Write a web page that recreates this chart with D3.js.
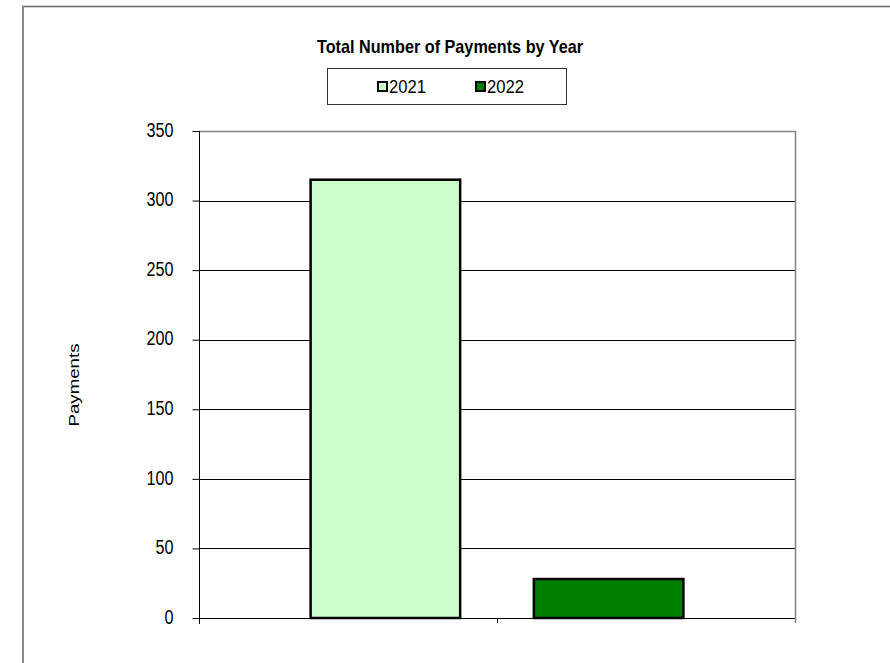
<!DOCTYPE html>
<html>
<head>
<meta charset="utf-8">
<script src="https://cdn.jsdelivr.net/npm/d3@7"></script>
<style>
  html, body { margin: 0; padding: 0; background: #fff; }
  svg { display: block; font-family: "Liberation Sans", Arial, sans-serif; }
</style>
</head>
<body>
<svg id="chart" width="890" height="663"></svg>
<script>
const categories = [""];
const seriesNames = ["2021", "2022"];
const seriesValues = [315, 28];
const seriesColors = ["#CCFFCC", "#008000"];
const yTicks = [0, 50, 100, 150, 200, 250, 300, 350];
const titleText = "Total Number of Payments by Year";
const yAxisTitle = "Payments";

const svg = d3.select("#chart");
const W = 890, H = 663;
const plot = { left: 199, right: 795, top: 131, bottom: 618 };
const SX = 0.83; // horizontal squeeze of the original rendering

svg.append("rect").attr("x", 0).attr("y", 0).attr("width", W).attr("height", H).attr("fill", "#fff");

// outer chart border
svg.append("rect")
  .attr("x", 23).attr("y", 6.5).attr("width", 900).attr("height", 700)
  .attr("fill", "none").attr("stroke", "#6e6e6e").attr("stroke-width", 1.6);

const y = d3.scaleLinear().domain([0, 350]).range([plot.bottom, plot.top]);
const x0 = d3.scaleBand().domain(categories).range([plot.left, plot.right]).padding(0);
const x1 = d3.scaleBand().domain(seriesNames).range([0, x0.bandwidth()]).paddingInner(0.33).paddingOuter(0.5);

// gridlines
svg.append("g").selectAll("line")
  .data(yTicks.filter(t => t > 0 && t < 350))
  .join("line")
  .attr("x1", plot.left).attr("x2", plot.right)
  .attr("y1", d => Math.round(y(d)) + 0.5).attr("y2", d => Math.round(y(d)) + 0.5)
  .attr("stroke", "#000").attr("stroke-width", 1);

// plot area border top & right (gray)
svg.append("line")
  .attr("x1", plot.left).attr("x2", plot.right + 0.5)
  .attr("y1", Math.round(y(350)) + 0.5).attr("y2", Math.round(y(350)) + 0.5)
  .attr("stroke", "#808080").attr("stroke-width", 1.5);
svg.append("line")
  .attr("x1", plot.right + 0.5).attr("x2", plot.right + 0.5)
  .attr("y1", y(350)).attr("y2", y(0))
  .attr("stroke", "#808080").attr("stroke-width", 1.5);

// bars
const data = seriesNames.map((s, i) => ({ series: s, value: seriesValues[i], color: seriesColors[i] }));
svg.append("g").selectAll("rect")
  .data(data)
  .join("rect")
  .attr("x", d => x0(categories[0]) + x1(d.series))
  .attr("width", x1.bandwidth())
  .attr("y", d => y(d.value))
  .attr("height", d => y(0) - y(d.value))
  .attr("fill", d => d.color)
  .attr("stroke", "#000").attr("stroke-width", 2.5);

// y axis
const yAxis = d3.axisLeft(y).tickValues(yTicks).tickSize(7).tickFormat(d3.format("d"));
const gy = svg.append("g").attr("transform", `translate(${plot.left + 0.5},0)`).call(yAxis);
gy.select(".domain").attr("stroke", "#000").attr("d", `M0,${y(350)}V${y(0) + 6}`);
gy.selectAll(".tick line").attr("stroke", "#000");
gy.selectAll(".tick text")
  .attr("x", 0).attr("dy", "0.27em")
  .attr("transform", `translate(-26,0) scale(${SX},1)`)
  .attr("font-size", 19.5).attr("fill", "#000")
  .attr("font-family", "Liberation Sans, Arial, sans-serif");

// x axis (baseline plus category boundary ticks)
const xb = d3.scaleLinear().domain([0, 2]).range([plot.left, plot.right]);
const gx = svg.append("g");
gx.append("line")
  .attr("x1", plot.left).attr("x2", plot.right + 1)
  .attr("y1", Math.round(y(0)) + 0.5).attr("y2", Math.round(y(0)) + 0.5)
  .attr("stroke", "#000").attr("stroke-width", 1);
gx.selectAll("line.tk")
  .data(d3.range(0, 3))
  .join("line").attr("class", "tk")
  .attr("x1", d => Math.round(xb(d)) + 0.5).attr("x2", d => Math.round(xb(d)) + 0.5)
  .attr("y1", y(0)).attr("y2", y(0) + 5)
  .attr("stroke", d => d === 2 ? "#808080" : "#000").attr("stroke-width", d => d === 2 ? 1.5 : 1);

// title
svg.append("text")
  .attr("x", 450).attr("y", 53)
  .attr("text-anchor", "middle")
  .attr("font-size", 17.7).attr("font-weight", "bold")
  .attr("textLength", 266).attr("lengthAdjust", "spacingAndGlyphs")
  .text(titleText);

// legend
const lg = svg.append("g");
lg.append("rect").attr("x", 327.5).attr("y", 68.5).attr("width", 239).attr("height", 36)
  .attr("fill", "#fff").attr("stroke", "#333").attr("stroke-width", 1);
const legendX = [378, 476];
const items = lg.selectAll("g.item").data(data).join("g").attr("class", "item")
  .attr("transform", (d, i) => `translate(${legendX[i]},82)`);
items.append("rect").attr("x", 0).attr("y", 0).attr("width", 9).attr("height", 9)
  .attr("fill", d => d.color).attr("stroke", "#000").attr("stroke-width", 2);
items.append("text").attr("x", 11).attr("y", 11.3).attr("font-size", 18.6)
  .attr("textLength", 37).attr("lengthAdjust", "spacingAndGlyphs")
  .text(d => d.series);

// y axis title
svg.append("text")
  .attr("transform", `translate(79,385) scale(${SX},1) rotate(-90)`)
  .attr("text-anchor", "middle")
  .attr("font-size", 18.7)
  .text(yAxisTitle);
</script>
</body>
</html>
